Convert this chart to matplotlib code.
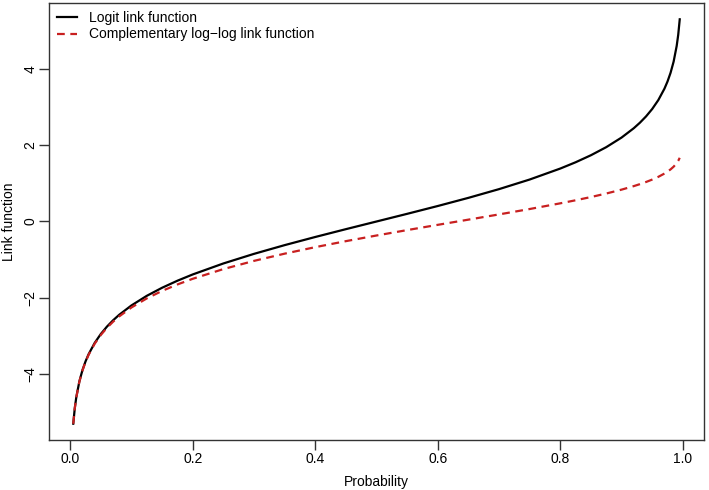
import matplotlib

matplotlib.use('Agg')
import matplotlib.pyplot as plt

# values
prob = [0.005, 0.0075, 0.01, 0.015, 0.02, 0.025, 0.03, 0.04, 0.05, 0.06, 0.07,
        0.08, 0.10, 0.125, 0.15, 0.175, 0.2, 0.25, 0.3, 0.35, 0.4, 0.45, 0.5,
        0.55, 0.6, 0.65, 0.7, 0.75, 0.8, 0.825, 0.85, 0.875, 0.9, 0.92, 0.93,
        0.94, 0.95, 0.96, 0.97, 0.975, 0.98, 0.985, 0.99, 0.9925, 0.995]
logit_vals = [-5.2933, -4.8853, -4.5951, -4.1846, -3.8918, -3.6636, -3.4761,
              -3.1781, -2.9444, -2.7515, -2.5867, -2.4423, -2.1972, -1.9459,
              -1.7346, -1.5506, -1.3863, -1.0986, -0.8473, -0.6190, -0.4055,
              -0.2007, 0.0, 0.2007, 0.4055, 0.6190, 0.8473, 1.0986, 1.3863,
              1.5506, 1.7346, 1.9459, 2.1972, 2.4423, 2.5867, 2.7515, 2.9444,
              3.1781, 3.4761, 3.6636, 3.8918, 4.1846, 4.5951, 4.8853, 5.2933]
cloglog_vals = [-5.2958, -4.8891, -4.6002, -4.1921, -3.9019, -3.6763, -3.4914,
                -3.1985, -2.9702, -2.7826, -2.6232, -2.4843, -2.2504, -2.0134,
                -1.8170, -1.6484, -1.4999, -1.2459, -1.0309, -0.8422, -0.6717,
                -0.5144, -0.3665, -0.2250, -0.0874, 0.0486, 0.1856, 0.3266,
                0.4759, 0.5556, 0.6403, 0.7322, 0.8340, 0.9265, 0.9780, 1.0344,
                1.0972, 1.1690, 1.2547, 1.3053, 1.3640, 1.4350, 1.5272, 1.5878,
                1.6674]
x_ticks = [0.0, 0.2, 0.4, 0.6, 0.8, 1.0]
y_ticks = [-4, -2, 0, 2, 4]

plt.rcParams['font.family'] = ['Liberation Sans', 'DejaVu Sans']
fs = 10
edge = '#333333'

fig = plt.figure(figsize=(7.09, 4.90), dpi=100)
ax = fig.add_axes([49 / 709, 50 / 490, 655 / 709, 437 / 490])

ax.plot(prob, logit_vals, color='black', lw=1.6, label='Logit link function')
ax.plot(prob, cloglog_vals, color='#c82020', lw=1.6, dashes=(3.5, 2.5),
        label='Complementary log\u2212log link function')

ax.set_xlim(-0.0346, 1.0346)
ax.set_ylim(-5.72, 5.72)
ax.set_xticks(x_ticks)
ax.set_xticklabels(['%.1f' % t for t in x_ticks])
ax.set_yticks(y_ticks)
ax.set_yticklabels([str(t).replace('-', '\u2212') for t in y_ticks],
                   rotation=90, va='center')
ax.tick_params(direction='out', length=7, width=1, color=edge,
               labelsize=fs, pad=1.5)
for s in ax.spines.values():
    s.set_color(edge)
    s.set_linewidth(1)

ax.set_xlabel('Probability', fontsize=fs)
ax.xaxis.set_label_coords(0.5, -0.08)
ax.set_ylabel('Link function', fontsize=fs)
ax.yaxis.set_label_coords(-0.05, 0.5)

ax.legend(loc='upper left', frameon=False, fontsize=fs, handlelength=1.5,
          handletextpad=0.85, borderaxespad=0.15, labelspacing=0.2)

fig.savefig('out.png', dpi=100)
plt.close()
